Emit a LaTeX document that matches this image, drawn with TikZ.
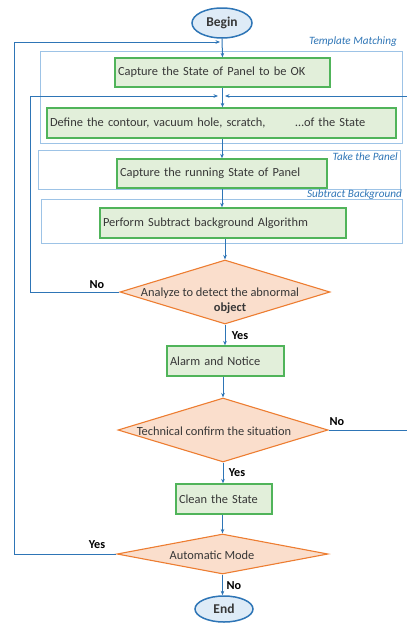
\documentclass[tikz,border=0pt]{standalone}
\usepackage{fontspec}
\setmainfont{Carlito}
\usetikzlibrary{shapes.geometric,arrows.meta}

\definecolor{flowblue}{RGB}{46,117,182}
\definecolor{frameblue}{RGB}{157,195,230}
\definecolor{labelblue}{RGB}{46,117,182}
\definecolor{boxgreen}{RGB}{80,180,90}
\definecolor{boxfill}{RGB}{226,239,218}
\definecolor{decorange}{RGB}{237,125,49}
\definecolor{decfill}{RGB}{250,222,204}
\definecolor{termfill}{RGB}{222,235,247}
\definecolor{inkgray}{RGB}{55,55,55}

\begin{document}
\begin{tikzpicture}[x=1pt,y=-1pt,
  every node/.style={text=inkgray},
  maintext/.style={font=\fontsize{12.4}{14}\selectfont},
  procbox/.style={maintext, draw=boxgreen, line width=1.3pt, fill=boxfill,
    inner xsep=3pt, inner ysep=0pt, align=left},
  decision/.style={diamond, draw=decorange, line width=1.1pt, fill=decfill,
    inner sep=0pt},
  terminal/.style={ellipse, draw=flowblue, line width=1.5pt, fill=termfill,
    inner sep=0pt, font=\bfseries\fontsize{13.5}{15}\selectfont},
  frame/.style={draw=frameblue, line width=0.7pt},
  framelabel/.style={font=\itshape\fontsize{11.2}{12}\selectfont, text=labelblue,
    inner sep=0pt},
  flow/.style={draw=flowblue, line width=1pt},
  flowarrow/.style={flow, -{Stealth[length=4.5pt,width=3.6pt]}},
  answer/.style={font=\bfseries\fontsize{12.2}{13}\selectfont, text=black,
    inner sep=0pt}
]
\useasboundingbox (0,0) rectangle (407,624);

% grouping frames
\draw[frame] (40,51) rectangle (402,143);
\draw[frame] (38,150) rectangle (400,189);
\draw[frame] (41,199) rectangle (402,243);
\node[framelabel, anchor=east] (tmlabel) at (397,42) {Template Matching};
\node[framelabel, anchor=east] (tplabel) at (398,157) {Take the Panel};
\node[framelabel, anchor=east] (sblabel) at (402,195) {Subtract Background};

% terminals
\node[terminal, minimum width=60pt, minimum height=30pt] (begin) at (222,23) {Begin};
\node[terminal, minimum width=58pt, minimum height=26pt] (end) at (224,609) {End};

% process steps
\node[procbox, text width=209pt, minimum height=29pt] (okstate) at (222.5,72.5)
  {Capture the State of Panel to be OK};
\node[procbox, text width=343pt, minimum height=30pt] (define) at (221.5,123)
  {Define the contour, vacuum hole, scratch,\hspace{30pt}…of the State};
\node[procbox, text width=204pt, minimum height=29pt] (running) at (222,173.5)
  {Capture the running State of Panel};
\node[procbox, text width=240pt, minimum height=30pt] (subtract) at (223,223)
  {Perform Subtract background Algorithm};
\node[procbox, text width=111pt, minimum height=30pt] (alarm) at (225.5,361)
  {Alarm and Notice};
\node[procbox, text width=90pt, minimum height=30pt] (clean) at (224,499)
  {Clean the State};

% decisions
\node[decision, minimum width=210pt, minimum height=64pt] (analyze) at (225,292) {};
\node[maintext, align=center, inner sep=0pt] (analyzetext) at (220,301)
  {Analyze to detect the abnormal\\[1pt]\hspace*{20pt}\textbf{object}};
\node[decision, minimum width=210pt, minimum height=64pt] (confirm) at (223,430) {};
\node[maintext, inner sep=0pt] (confirmtext) at (214,431)
  {Technical confirm the situation};
\node[decision, minimum width=211pt, minimum height=40pt] (auto) at (222.5,554) {};
\node[maintext, inner sep=0pt] (autotext) at (212,555) {Automatic Mode};

% loop entry points on the main line
\coordinate (entrytop) at (220,42);
\coordinate (entryleft) at (218,96);
\coordinate (entryright) at (225,96);

% main sequence
\draw[flowarrow] (begin.south) -- (okstate.north);
\draw[flowarrow] (okstate.south) -- (okstate.south |- define.north);
\draw[flowarrow] (running.north |- define.south) -- (running.north);
\draw[flowarrow] (running.south) -- (running.south |- subtract.north);
\draw[flowarrow] (analyze.north |- subtract.south) -- (analyze.north);
\draw[flowarrow] (analyze.south) -- (analyze.south |- alarm.north);
\draw[flowarrow] (confirm.north |- alarm.south) -- (confirm.north);
\draw[flowarrow] (confirm.south) -- (confirm.south |- clean.north);
\draw[flowarrow] (auto.north |- clean.south) -- (auto.north);
\draw[flowarrow] (auto.south) -- (auto.south |- end.north);

% feedback loops
\draw[flowarrow] (auto.west) -- (14,554) -- (14,42) -- (entrytop);
\draw[flowarrow] (analyze.west) -- (30,292) -- (30,96) -- (entryleft);
\draw[flowarrow] (confirm.east) -- (412,430) -- (412,96) -- (entryright);

% branch answers
\node[answer] (noanalyze) at (97,285) {No};
\node[answer] (yesanalyze) at (240,336) {Yes};
\node[answer] (noconfirm) at (337,422) {No};
\node[answer] (yesconfirm) at (237,473) {Yes};
\node[answer] (yesauto) at (97,545) {Yes};
\node[answer] (noauto) at (234,586) {No};
\end{tikzpicture}
\end{document}
